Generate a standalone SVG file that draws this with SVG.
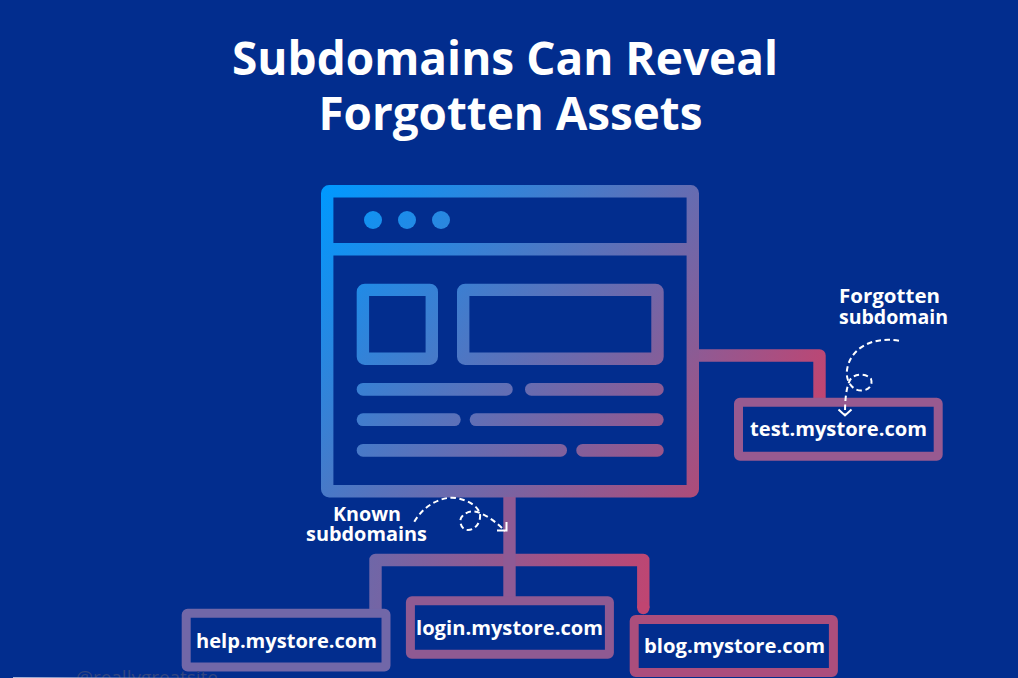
<svg xmlns="http://www.w3.org/2000/svg" width="1018" height="678" viewBox="0 0 1018 678">
<defs>
<style>
.bg{fill:#022d8e}
.t{font-family:"Open Sans","Liberation Sans",sans-serif;font-weight:700;fill:#fff}
.title{font-size:46px}
.lab{font-size:19.5px}
.dom{font-size:20px}
.sw{fill:none;stroke:url(#g);stroke-width:12.4;stroke-linejoin:round}
.box{fill:none;stroke-width:9;stroke-linejoin:round}
.bar{fill:url(#g)}
.dash{fill:none;stroke:#fff;stroke-width:2;stroke-dasharray:5.500 3.500}
.head{fill:none;stroke:#fff;stroke-width:2}
</style>
<linearGradient id="g" gradientUnits="userSpaceOnUse" x1="330" y1="180" x2="700" y2="500"><stop offset="0" stop-color="#0099ff"/><stop offset="1" stop-color="#b04b78"/></linearGradient>
<linearGradient id="c1" gradientUnits="userSpaceOnUse" x1="699" y1="350" x2="825" y2="398"><stop offset="0" stop-color="#8f5a94"/><stop offset="1" stop-color="#c04571"/></linearGradient>
<linearGradient id="c2" gradientUnits="userSpaceOnUse" x1="369" y1="560" x2="650" y2="614"><stop offset="0" stop-color="#6f67a8"/><stop offset="1" stop-color="#c04571"/></linearGradient>
<linearGradient id="wm" gradientUnits="userSpaceOnUse" x1="13" y1="677" x2="220" y2="677"><stop offset="0" stop-color="#aab4d8"/><stop offset="1" stop-color="#aab4d8" stop-opacity="0"/></linearGradient>
</defs>
<rect class="bg" width="1018" height="678"/>
<text class="t title" x="232" y="75" textLength="546" lengthAdjust="spacingAndGlyphs">Subdomains Can Reveal</text>
<text class="t title" x="318.500" y="130" textLength="384" lengthAdjust="spacingAndGlyphs">Forgotten Assets</text>
<g id="browser">
<rect class="sw" x="327.200" y="191.200" width="365.600" height="300" rx="2"/>
<path class="sw" d="M327 249.200H693" fill="none"/>
<circle class="bar" cx="373" cy="220" r="9"/><circle class="bar" cx="407" cy="220" r="9"/><circle class="bar" cx="441" cy="220" r="9"/>
<rect class="sw" x="362.900" y="289.900" width="68.900" height="68.900" rx="2"/>
<rect class="sw" x="463.200" y="289.900" width="194.300" height="68.900" rx="2"/>
<rect class="bar" x="356.700" y="383" width="156" height="12.700" rx="6.300"/>
<rect class="bar" x="525" y="383" width="138.700" height="12.700" rx="6.300"/>
<rect class="bar" x="356.700" y="413.300" width="104" height="12.700" rx="6.300"/>
<rect class="bar" x="469.700" y="413.300" width="194" height="12.700" rx="6.300"/>
<rect class="bar" x="356.700" y="444" width="210.300" height="12.700" rx="6.300"/>
<rect class="bar" x="576.300" y="444" width="87.400" height="12.700" rx="6.300"/>
</g>
<g id="connectors">
<path d="M699 355.500H819.500V398" fill="none" stroke="url(#c1)" stroke-width="12.400" stroke-linejoin="round"/>
<path d="M375.500 609V560H643.300V608" fill="none" stroke="url(#c2)" stroke-width="12.400" stroke-linejoin="round" stroke-linecap="butt"/>
<circle cx="643.300" cy="608" r="6.200" fill="#c04571"/>
<path d="M509.500 497V597" fill="none" stroke="#8f5a94" stroke-width="12.400"/>
</g>
<g id="node-test">
<rect class="box" x="738.500" y="402.200" width="199.700" height="54" rx="1.500" stroke="#985a90"/>
<text class="t dom" x="750" y="436" textLength="177" lengthAdjust="spacingAndGlyphs">test.mystore.com</text>
</g>
<g id="node-help">
<rect class="box" x="186.200" y="613.300" width="199.800" height="53.700" rx="1.500" stroke="#7167a8"/>
<text class="t dom" x="196" y="648" textLength="181" lengthAdjust="spacingAndGlyphs">help.mystore.com</text>
</g>
<g id="node-login">
<rect class="box" x="410.400" y="600.700" width="199" height="53.600" rx="1.500" stroke="#8f5a92"/>
<text class="t dom" x="416" y="635" textLength="187" lengthAdjust="spacingAndGlyphs">login.mystore.com</text>
</g>
<g id="node-blog">
<rect class="box" x="634.200" y="619.400" width="199.200" height="53.200" rx="1.500" stroke="#ab4e7c"/>
<text class="t dom" x="644" y="653" textLength="181" lengthAdjust="spacingAndGlyphs">blog.mystore.com</text>
</g>
<g id="note-forgotten">
<text class="t lab" x="839" y="302.500" textLength="101" lengthAdjust="spacingAndGlyphs">Forgotten</text>
<text class="t lab" x="839" y="323.500" textLength="109" lengthAdjust="spacingAndGlyphs">subdomain</text>
<path class="dash" d="M899 340.700C870 336 848 350 846.700 373C847 384 854 391 862 390.500C870 390 873 384 871 379C868 374 855 372 850 380C846 388 845 400 845 414"/>
<path class="head" d="M838.500 409.500L845 415.500L851.500 409.500"/>
</g>
<g id="note-known">
<text class="t lab" x="333" y="521" textLength="68" lengthAdjust="spacingAndGlyphs">Known</text>
<text class="t lab" x="306" y="541" textLength="121" lengthAdjust="spacingAndGlyphs">subdomains</text>
<path class="dash" d="M414.300 521.700C424 505 442 496 456 498C468 500 478 506 480 514C481 523 475 530 468 530C462 530 459 523 461 518C465 511 474 510 480 513C490 517 498 524 505 531"/>
<path class="head" d="M497 530.500H506.500V522"/>
</g>
<g id="watermark">
<text x="76" y="684" font-family="'Open Sans','Liberation Sans',sans-serif" font-size="19" fill="#33457f" textLength="142" lengthAdjust="spacingAndGlyphs">@reallygreatsite</text>
<rect x="13" y="677" width="207" height="1" fill="url(#wm)"/>
</g>
</svg>
